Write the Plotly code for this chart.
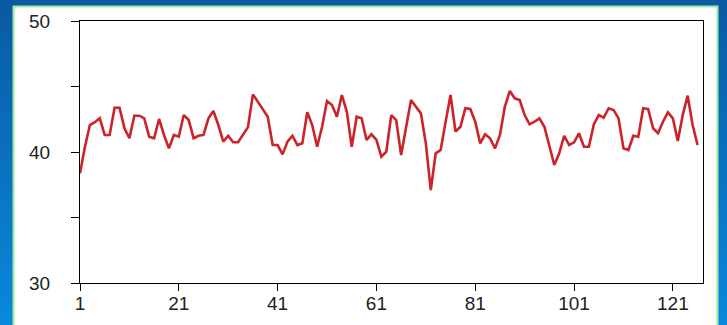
import plotly.graph_objects as go

# Sample index and measured values
x_index = list(range(1, 127))
values = [
    38.37, 40.40, 42.06, 42.27, 42.57, 41.30, 41.30, 43.38, 43.38, 41.81,
    41.05, 42.77, 42.77, 42.57, 41.17, 41.05, 42.52, 41.30, 40.28, 41.30,
    41.17, 42.82, 42.44, 41.05, 41.24, 41.30, 42.57, 43.13, 42.06, 40.79,
    41.24, 40.74, 40.74, 41.30, 41.90, 44.40, 43.84, 43.20, 42.69, 40.53,
    40.53, 39.82, 40.79, 41.24, 40.53, 40.66, 43.03, 42.06, 40.40, 41.93,
    43.89, 43.59, 42.69, 44.35, 43.08, 40.40, 42.69, 42.57, 40.92, 41.35,
    40.92, 39.64, 40.02, 42.82, 42.44, 39.77, 41.81, 43.97, 43.46, 42.95,
    40.66, 37.10, 39.90, 40.15, 42.30, 44.35, 41.55, 41.93, 43.34, 43.28,
    42.31, 40.66, 41.35, 41.05, 40.28, 41.30, 43.46, 44.66, 44.10, 43.97,
    42.82, 42.11, 42.31, 42.57, 41.93, 40.53, 39.01, 39.90, 41.24, 40.53,
    40.74, 41.43, 40.40, 40.40, 42.11, 42.82, 42.62, 43.34, 43.21, 42.57,
    40.28, 40.15, 41.24, 41.17, 43.34, 43.28, 41.81, 41.43, 42.31, 43.03,
    42.57, 40.84, 42.82, 44.30, 42.06, 40.53,
]

x_tick_values = [1, 21, 41, 61, 81, 101, 121]
y_tick_values = [30, 35, 40, 45, 50]
y_tick_labels = ["30", "", "40", "", "50"]

W, H = 727, 325

fig = go.Figure()
fig.add_trace(go.Scatter(
    x=x_index, y=values, mode="lines",
    line=dict(color="#CC2229", width=2.6),
    hoverinfo="skip", showlegend=False,
))

# Blue vertical gradient backdrop built from thin bands
shapes = []
n_bands = 40
top_rgb = (10, 90, 164)
bot_rgb = (10, 136, 220)
for k in range(n_bands):
    t = k / (n_bands - 1)
    r, g, b = (round(top_rgb[c] + (bot_rgb[c] - top_rgb[c]) * t) for c in range(3))
    shapes.append(dict(
        type="rect", xref="paper", yref="paper", layer="below",
        x0=0, x1=1, y0=1 - (k + 1) / n_bands - 0.002, y1=1 - k / n_bands,
        fillcolor=f"rgb({r},{g},{b})", line=dict(width=0),
    ))

# White panel with a light green rim
shapes.append(dict(
    type="rect", xref="paper", yref="paper", layer="below",
    x0=13.5 / W, x1=717.5 / W, y0=-0.05, y1=1 - 6.5 / H,
    fillcolor="white", line=dict(color="#9DEB9D", width=2),
))

axis_font = dict(family="Liberation Sans, Arial, sans-serif", size=19, color="#222222")

fig.update_layout(
    width=W, height=H,
    margin=dict(l=0, r=0, t=0, b=0, pad=0, autoexpand=False),
    paper_bgcolor="#0A70C0",
    plot_bgcolor="white",
    shapes=shapes,
    xaxis=dict(
        domain=[80 / W, 702.5 / W],
        range=[1, 127],
        tickvals=x_tick_values,
        ticks="outside", ticklen=7, tickcolor="#000000", tickwidth=1,
        showline=True, linecolor="#000000", linewidth=1, mirror=True,
        showgrid=False, zeroline=False, automargin=False,
        tickfont=axis_font,
        ticklabelstandoff=-4,
    ),
    yaxis=dict(
        domain=[1 - 283 / H, 1 - 21 / H],
        range=[30, 50],
        tickvals=y_tick_values,
        ticktext=y_tick_labels,
        ticks="outside", ticklen=8, tickcolor="#000000", tickwidth=1,
        showline=True, linecolor="#000000", linewidth=1, mirror=True,
        showgrid=False, zeroline=False, automargin=False,
        tickfont=axis_font,
        ticklabelstandoff=17,
    ),
)

fig.write_html("out.html")
